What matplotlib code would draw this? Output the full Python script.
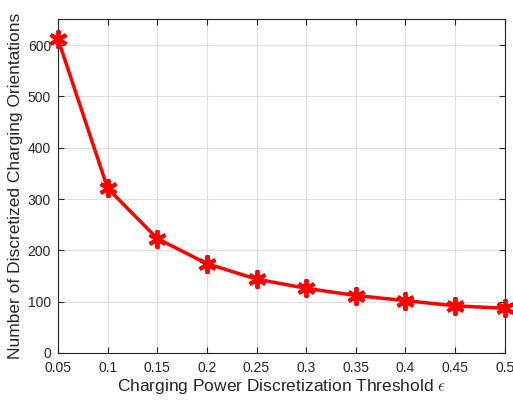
import matplotlib
matplotlib.use("Agg")
import matplotlib.pyplot as plt

plt.rcParams["font.family"] = ["Liberation Sans", "DejaVu Sans"]
plt.rcParams["mathtext.fontset"] = "cm"

thresholds = [0.05, 0.1, 0.15, 0.2, 0.25, 0.3, 0.35, 0.4, 0.45, 0.5]
orientations = [612, 321, 223, 174, 144, 126, 112, 102, 92, 87]
x_ticks = [0.05, 0.1, 0.15, 0.2, 0.25, 0.3, 0.35, 0.4, 0.45, 0.5]
x_tick_labels = ["0.05", "0.1", "0.15", "0.2", "0.25", "0.3", "0.35", "0.4", "0.45", "0.5"]
y_ticks = [0, 100, 200, 300, 400, 500, 600]

fig = plt.figure(figsize=(5.13, 4.0), dpi=100)
ax = fig.add_axes([0.113, 0.1175, 0.871, 0.834])

ax.plot(thresholds, orientations, color="red", linewidth=2.5,
        marker=(6, 2, 0), markersize=13, markeredgewidth=2.8,
        markeredgecolor="red", clip_on=False, zorder=3)

ax.set_xlim(0.05, 0.5)
ax.set_ylim(0, 650)
ax.set_xticks(x_ticks)
ax.set_xticklabels(x_tick_labels)
ax.set_yticks(y_ticks)

ax.grid(True, color="#dedede", linewidth=0.8)
ax.set_axisbelow(True)
ax.tick_params(direction="in", top=True, right=True, labelsize=10,
               colors="#262626", length=4, width=0.8)
ax.tick_params(axis="x", pad=6)
ax.tick_params(axis="y", pad=5)
for s in ax.spines.values():
    s.set_color("#262626")
    s.set_linewidth(0.8)

ax.set_xlabel(r"Charging Power Discretization Threshold $\epsilon$",
              fontsize=12.5, color="#262626", labelpad=1)
ax.set_ylabel("Number of Discretized Charging Orientations",
              fontsize=12.5, color="#262626", labelpad=3)

fig.savefig("out.png", dpi=100)
